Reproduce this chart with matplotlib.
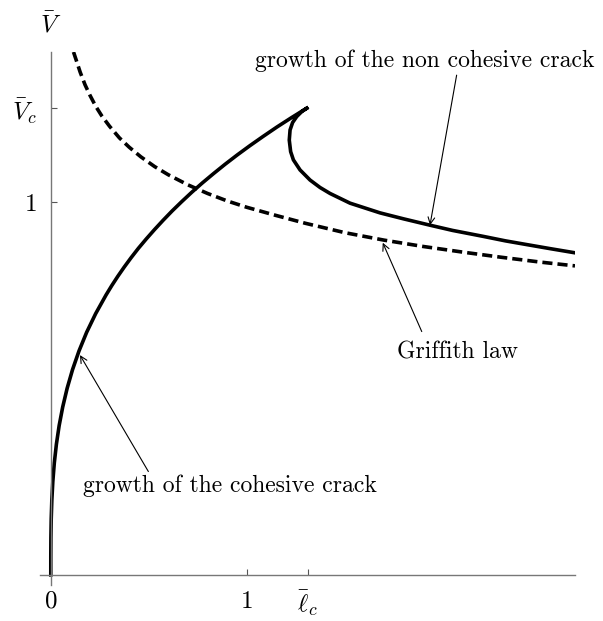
import matplotlib
matplotlib.use("Agg")
import matplotlib.pyplot as plt

plt.rcParams['mathtext.fontset'] = 'cm'

# branch 1: growth of the cohesive crack (length l, load V)
cohesive_l = [0.0, 0.00008, 0.00067, 0.00225, 0.00534, 0.0104, 0.018, 0.0286, 0.0427, 0.0609,
              0.0835, 0.111, 0.144, 0.183, 0.229, 0.282, 0.311, 0.342, 0.375, 0.410, 0.447,
              0.487, 0.529, 0.573, 0.619, 0.668, 0.719, 0.773, 0.830, 0.889, 0.951, 1.016,
              1.084, 1.154, 1.228, 1.314]
cohesive_v = [0.0, 0.05, 0.10, 0.15, 0.20, 0.25, 0.30, 0.35, 0.40, 0.45,
              0.50, 0.55, 0.60, 0.65, 0.70, 0.75, 0.775, 0.80, 0.825, 0.85, 0.875,
              0.90, 0.925, 0.95, 0.975, 1.00, 1.025, 1.05, 1.075, 1.10, 1.125, 1.15,
              1.175, 1.20, 1.225, 1.253]

# branch 2: growth of the non cohesive crack, starting from the cusp
noncohesive_l = [1.314, 1.282, 1.255, 1.234, 1.221, 1.217, 1.224, 1.238, 1.272, 1.323, 1.374,
                 1.425, 1.527, 1.68, 1.8, 1.935, 2.05, 2.207, 2.32, 2.429, 2.55, 2.675]
noncohesive_v = [1.253, 1.242, 1.228, 1.212, 1.192, 1.165, 1.134, 1.112, 1.085, 1.058, 1.038,
                 1.022, 0.996, 0.970, 0.954, 0.937, 0.923, 0.907, 0.895, 0.885, 0.874, 0.863]

# Griffith law
griffith_l = [0.116, 0.13, 0.15, 0.175, 0.2, 0.23, 0.26, 0.3, 0.35, 0.4, 0.46, 0.53, 0.6, 0.7,
              0.8, 0.9, 1.0, 1.15, 1.3, 1.5, 1.7, 1.9, 2.1, 2.3, 2.5, 2.675]
griffith_v = [1.401, 1.379, 1.347, 1.313, 1.285, 1.255, 1.230, 1.202, 1.171, 1.146, 1.120,
              1.094, 1.072, 1.045, 1.022, 1.002, 0.985, 0.963, 0.942, 0.917, 0.897, 0.880,
              0.865, 0.851, 0.838, 0.828]

l_ticks = [0, 1, 1.31]
l_tick_labels = ['$0$', '$1$', r'$\bar{\ell}_c$']
v_ticks = [1, 1.25]
v_tick_labels = ['$1$', r'$\bar{V}_c$']

fig = plt.figure(figsize=(6.03, 6.21), dpi=100)
ax = fig.add_axes([40 / 603, 36 / 621, 535 / 603, 533 / 621])

ax.plot(cohesive_l + noncohesive_l[1:], cohesive_v + noncohesive_v[1:],
        color='black', lw=2.6, solid_joinstyle='miter')
ax.plot(griffith_l, griffith_v, color='black', lw=2.6, linestyle=(0, (2.8, 1.4)))

ax.set_xlim(-0.055, 2.675)
ax.set_ylim(-0.027, 1.401)

for side in ['top', 'right']:
    ax.spines[side].set_visible(False)
for side in ['left', 'bottom']:
    ax.spines[side].set_position(('data', 0))
    ax.spines[side].set_color('#777777')
    ax.spines[side].set_linewidth(1.0)

ax.set_xticks(l_ticks)
ax.set_xticklabels(l_tick_labels)
ax.set_yticks(v_ticks)
ax.set_yticklabels(v_tick_labels)
ax.tick_params(direction='in', length=4, width=0.8, colors='#555555', labelsize=18)
ax.tick_params(axis='x', pad=10, labelcolor='black')
ax.tick_params(axis='y', pad=10, labelcolor='black')

ax.text(0, 1.476, r'$\bar{V}$', ha='center', va='center', fontsize=18, clip_on=False)

arrow = dict(arrowstyle='->', lw=0.8, color='black', shrinkA=0, shrinkB=0, mutation_scale=12)
ax.annotate('', xy=(1.935, 0.937), xytext=(2.071, 1.339), arrowprops=arrow)
ax.annotate('', xy=(1.694, 0.890), xytext=(1.893, 0.652), arrowprops=arrow)
ax.annotate('', xy=(0.149, 0.589), xytext=(0.498, 0.277), arrowprops=arrow)

ax.text(1.041, 1.362, 'growth of the non cohesive crack', fontfamily='cmr10', fontsize=17,
        ha='left', va='baseline')
ax.text(1.765, 0.581, 'Griffith law', fontfamily='cmr10', fontsize=17, ha='left', va='baseline')
ax.text(0.166, 0.223, 'growth of the cohesive crack', fontfamily='cmr10', fontsize=17,
        ha='left', va='baseline')

fig.savefig('out.png', dpi=100)
